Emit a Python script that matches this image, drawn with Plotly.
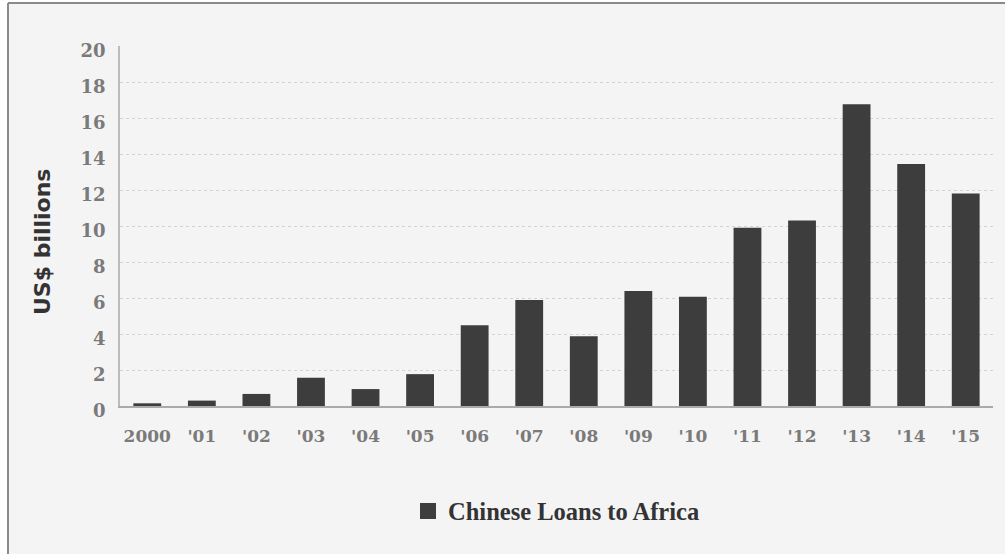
import plotly.graph_objects as go

years = ["2000", "'01", "'02", "'03", "'04", "'05", "'06", "'07", "'08", "'09",
         "'10", "'11", "'12", "'13", "'14", "'15"]
loans = [0.15, 0.3, 0.67, 1.57, 0.94, 1.77, 4.48, 5.89, 3.87, 6.39,
         6.07, 9.9, 10.3, 16.76, 13.44, 11.8]
y_ticks = [0, 2, 4, 6, 8, 10, 12, 14, 16, 18, 20]
series_name = "Chinese Loans to Africa"
y_title = "US$ billions"

BAR = "#3d3d3d"
BG = "#f4f4f4"

W, H = 1005, 554
L, R, T, B = 120, 12, 46, 148
pw, ph = W - L - R, H - T - B

def px_x(px):
    return (px - L) / pw

def px_y(py):
    return (H - B - py) / ph

fig = go.Figure()
fig.add_trace(go.Bar(x=years, y=loans, marker=dict(color=BAR, line=dict(width=0)),
                     width=0.51, showlegend=False, name=series_name))
fig.add_trace(go.Scatter(x=[None], y=[None], mode="markers", name=series_name,
                         marker=dict(symbol="square", size=20, color=BAR)))

fig.update_layout(
    width=W, height=H,
    margin=dict(l=L, r=R, t=T, b=B, autoexpand=False),
    paper_bgcolor="white",
    plot_bgcolor=BG,
    bargap=0.49,
    showlegend=True,
    legend=dict(x=0.5, xanchor="center", y=px_y(511), yanchor="middle",
                orientation="h", bgcolor="rgba(0,0,0,0)",
                font=dict(family="Liberation Serif", size=24.5, color="#333333", weight="bold"),
                itemsizing="trace"),
    xaxis=dict(type="category", range=[-0.5, 15.5], showgrid=False,
               showline=True, linecolor="#aaaaaa", linewidth=1.5,
               ticks="", ticklabelstandoff=14,
               tickfont=dict(family="DejaVu Serif", size=17, color="#7a7a7a", weight="bold"),
               zeroline=False, fixedrange=True),
    yaxis=dict(range=[0, 20], tickvals=y_ticks, showgrid=True, gridcolor="#d4d4d4",
               griddash="dot", gridwidth=1, showline=True, linecolor="#bbbbbb",
               linewidth=1.5, ticks="", ticklabelstandoff=9, ticklabelshift=5,
               tickfont=dict(family="DejaVu Serif", size=18, color="#7a7a7a", weight="bold"),
               zeroline=False),
)

fig.add_annotation(text=y_title, xref="paper", yref="paper", x=px_x(42), y=px_y(242),
                   xanchor="center", yanchor="middle", textangle=-90, showarrow=False,
                   font=dict(family="DejaVu Sans", size=22, color="#333333", weight="bold"))

# page background (inside frame) and frame lines
fig.add_shape(type="rect", xref="paper", yref="paper", layer="below",
              x0=px_x(8), x1=px_x(W + 5), y0=px_y(H + 5), y1=px_y(3),
              fillcolor=BG, line=dict(width=0))
fig.add_shape(type="line", xref="paper", yref="paper",
              x0=px_x(8), x1=px_x(8), y0=px_y(H + 5), y1=px_y(3),
              line=dict(color="#8a8a8a", width=2))
fig.add_shape(type="line", xref="paper", yref="paper",
              x0=px_x(8), x1=px_x(W + 5), y0=px_y(3), y1=px_y(3),
              line=dict(color="#8a8a8a", width=2))

fig.write_html("out.html", config={"displayModeBar": False},
               post_script="document.body.style.margin='0px';")
